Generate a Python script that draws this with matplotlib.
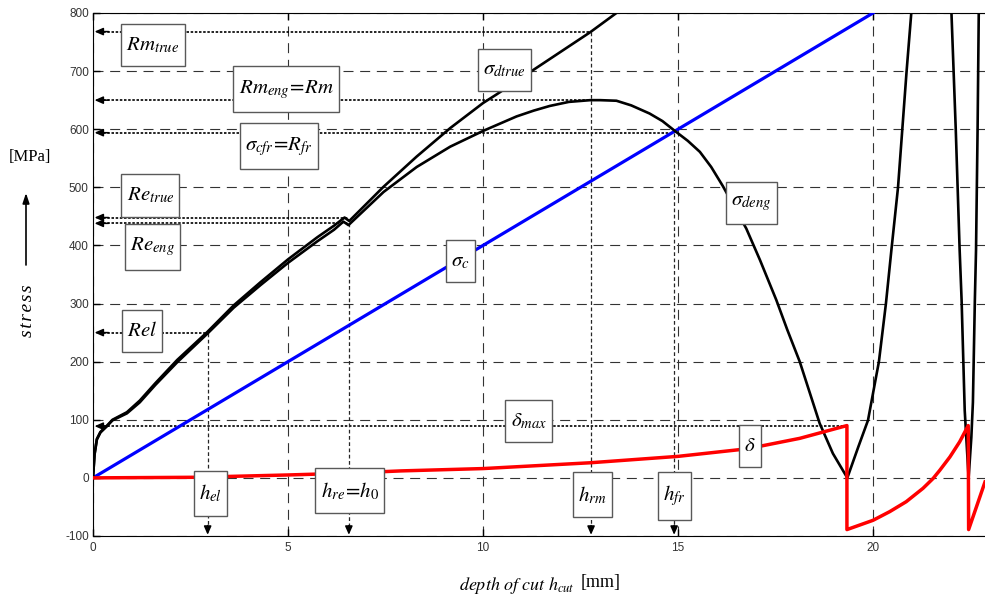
import matplotlib
matplotlib.use('Agg')
import matplotlib.pyplot as plt
from matplotlib.path import Path

plt.rcParams['mathtext.fontset'] = 'stix'
plt.rcParams['font.family'] = ['Liberation Sans', 'DejaVu Sans']
plt.rcParams['axes.unicode_minus'] = False


# DATA #

# true stress sigma_dtrue [MPa] vs depth of cut [mm]
h_true = [0, 0.04, 0.1, 0.19, 0.36, 0.5, 0.87, 1.2, 1.6, 2.16, 2.93, 3.61, 4.3, 5.0,
          5.75, 6.18, 6.45, 6.57, 7.45, 8.3, 9.16, 10.0, 10.35, 11.29, 12.75, 13.42, 13.6]
s_true = [0, 41, 67, 79, 90, 100, 113, 133, 163, 203, 251, 297, 337, 376,
          414, 434, 448, 442, 501, 553, 602, 645, 660, 702, 767, 800, 808]

# engineering stress sigma_deng
h_eng = [0, 0.04, 0.1, 0.19, 0.36, 0.5, 0.87, 1.2, 1.6, 2.16, 2.93, 3.61, 4.3, 5.0,
         5.75, 6.18, 6.42, 6.55, 7.45, 8.3, 9.16, 10.0, 10.86, 11.3, 11.71, 12.2,
         12.75, 13.0, 13.42, 13.8, 14.27, 14.6, 14.92, 15.25, 15.56, 15.85, 16.15,
         16.75, 17.1, 17.52, 17.8, 18.12, 18.63, 18.97, 19.34,
         19.62, 19.87, 20.15, 20.33, 20.47, 20.64, 20.86, 20.98, 21.03, 21.96,
         22.01, 22.12, 22.22, 22.27, 22.35, 22.45, 22.52, 22.56, 22.61, 22.64,
         22.68, 22.71, 22.73]
s_eng = [0, 40, 66, 78, 89, 99, 111, 130, 160, 199, 248, 293, 332, 370,
         407, 427, 441, 435, 492, 535, 570, 597, 622, 632, 640, 647,
         650, 650, 649, 641, 627, 614, 597, 580, 561, 535, 502,
         429, 375, 306, 255, 200, 94, 42, 0,
         53, 99, 200, 300, 392, 500, 700, 800, 850, 850,
         800, 600, 392, 306, 116, 0, 70, 130, 306, 392,
         600, 800, 850]

# cutting stress sigma_c
h_c = [0, 20]
s_c = [0, 800]

# delta
h_delta = [0, 2.6, 5.0, 6.5, 7.9, 10.0, 12.75, 15.0, 16.77, 18.12, 19.33, 19.33,
           20.0, 20.43, 20.85, 21.28, 21.54, 21.71, 21.97, 22.22, 22.44, 22.45,
           22.65, 22.87]
delta = [0, 1, 5, 8, 12, 16, 26, 37, 50, 68, 90, -89,
         -73, -58, -41, -18, -1, 13, 36, 62, 90, -89,
         -50, -7]

# characteristic stress levels: Rm_true, Rm_eng, sigma_cfr, Re_true, Re_eng, Rel, delta_max
level_values = [768, 650, 594, 448, 438, 250, 89]
level_ends = [12.77, 12.77, 14.9, 6.55, 6.55, 2.94, 19.33]

# characteristic depths: h_el, h_re, h_rm, h_fr
depth_values = [2.94, 6.56, 12.77, 14.9]
depth_tops = [250, 438, 768, 594]


# PLOT #

fig = plt.figure(figsize=(9.85, 6.07), dpi=100)
ax = fig.add_axes([0.0944, 0.117, 0.9056, 0.8616])

ax.plot(h_c, s_c, color='#0000ff', lw=2.3, zorder=3)
ax.plot(h_true, s_true, color='k', lw=1.9, zorder=3)
ax.plot(h_eng, s_eng, color='k', lw=1.9, zorder=3)
ax.plot(h_delta, delta, color='#ff0000', lw=2.5, zorder=3)

arrow = dict(arrowstyle='-|>,head_length=0.5,head_width=0.22', color='k', lw=1.1,
             shrinkA=0, shrinkB=0)

for y, xe in zip(level_values, level_ends):
    ax.plot([0.15, xe], [y, y], color='k', lw=1.2, ls=(0, (1.5, 1)), zorder=2)
    ax.annotate('', xy=(0.04, y), xytext=(0.4, y), arrowprops=arrow, zorder=2)

for xv, yt in zip(depth_values, depth_tops):
    ax.plot([xv, xv], [yt, -85], color='0.15', lw=0.9, ls=(0, (3, 2)), zorder=2)
    ax.annotate('', xy=(xv, -98), xytext=(xv, -82), arrowprops=arrow, zorder=2)


# label boxes - more room above/below than at the sides, like the original
def label_box(x0, y0, width, height, mutation_size):
    px = 0.25 * mutation_size
    py = 0.55 * mutation_size
    x0, y0 = x0 - px, y0 - py
    x1, y1 = x0 + width + 2 * px, y0 + height + 2 * py
    return Path([(x0, y0), (x1, y0), (x1, y1), (x0, y1), (x0, y0)], closed=True)


box = dict(boxstyle=label_box, fc='white', ec='0.35', lw=1.0)
labels = [
    (r'$Rm_{true}$', 1.54, 745),
    (r'$Rm_{eng}\!=\!Rm$', 4.95, 669),
    (r'$\sigma_{cfr}\!=\!R_{fr}$', 4.76, 571),
    (r'$Re_{true}$', 1.47, 486),
    (r'$Re_{eng}$', 1.52, 398),
    (r'$Rel$', 1.26, 253),
    (r'$\sigma_{dtrue}$', 10.55, 702),
    (r'$\sigma_c$', 9.42, 373),
    (r'$\sigma_{deng}$', 16.88, 473),
    (r'$\delta_{max}$', 11.17, 98),
    (r'$\delta$', 16.85, 55),
    (r'$h_{el}$', 3.01, -27),
    (r'$h_{re}\!=\!h_0$', 6.58, -22),
    (r'$h_{rm}$', 12.81, -29),
    (r'$h_{fr}$', 14.9, -31),
]
for txt, x, y in labels:
    ax.text(x, y, txt, fontsize=15, ha='center', va='center', bbox=box, zorder=5)

ax.set_xlim(0, 22.87)
ax.set_ylim(-100, 800)
ax.set_xticks([0, 5, 10, 15, 20])
ax.set_yticks(range(-100, 801, 100))
ax.grid(True, color='0.2', lw=0.8, ls=(0, (9, 6)))
ax.set_axisbelow(True)
ax.tick_params(direction='in', length=5, width=1, top=True, labelsize=8.5,
               labelcolor='0.2')
ax.tick_params(axis='x', pad=4)
ax.tick_params(axis='y', pad=3)
ax.spines['right'].set_visible(False)

# axis titles
fig.text(30 / 985, 1 - 157 / 607, '[MPa]', family='Liberation Serif', fontsize=12,
         ha='center', va='center')
ax.annotate('', xy=(26 / 985, 1 - 193 / 607), xycoords='figure fraction',
            xytext=(26 / 985, 1 - 265 / 607), textcoords='figure fraction',
            arrowprops=dict(arrowstyle='-|>,head_length=0.6,head_width=0.2',
                            color='k', lw=1.2, shrinkA=0, shrinkB=0))
fig.text(28 / 985, 1 - 311 / 607, '\u200a'.join('stress'), rotation=90, style='italic',
         family=['Liberation Serif', 'DejaVu Serif'], fontsize=14,
         ha='center', va='center')
fig.text(459 / 985, 1 - 585 / 607, r'$depth\ of\ cut\ h_{cut}$', fontsize=13,
         ha='left', va='center')
fig.text(601 / 985, 1 - 583 / 607, '[mm]', family='Liberation Serif', fontsize=13,
         ha='center', va='center')

fig.savefig('out.png', dpi=100)
